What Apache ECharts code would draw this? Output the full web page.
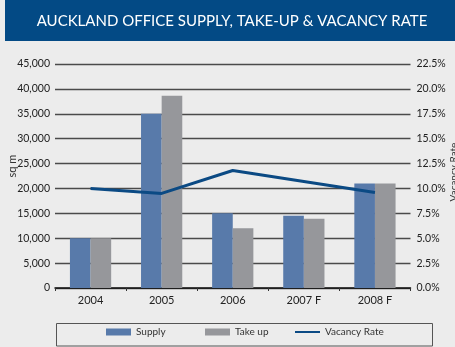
<!DOCTYPE html>
<html>
<head>
<meta charset="utf-8">
<script src="https://cdn.jsdelivr.net/npm/echarts@6/dist/echarts.min.js"></script>
<style>
  html, body { margin: 0; padding: 0; background: #ececec; }
  #chart { width: 455px; height: 347px; }
</style>
</head>
<body>
<div id="chart"></div>
<script>
// Auckland office market: supply, take-up (sq m) and vacancy rate (%)
const years = ['2004', '2005', '2006', '2007 F', '2008 F'];
const supply = [10000, 35000, 15000, 14500, 21000];
const takeUp = [10000, 38600, 12000, 13900, 21000];
const vacancyRate = [10.0, 9.5, 11.8, 10.7, 9.6];

const FONT = 'Lato';
const chart = echarts.init(document.getElementById('chart'));

function legendFor(name, left, opts) {
  return Object.assign({
    data: [name],
    left: left,
    top: 327,
    itemWidth: 25,
    itemHeight: 7,
    icon: 'rect',
    itemGap: 0,
    padding: 0,
    textStyle: { fontFamily: FONT, fontSize: 10, color: '#333' }
  }, opts || {});
}

chart.setOption({
  backgroundColor: '#ececec',
  animation: false,
  textStyle: { fontFamily: FONT },
  grid: { left: 55, right: 44.5, top: 64, bottom: 59, containLabel: false },
  graphic: [
    { type: 'rect', left: 5, top: 0, shape: { width: 450, height: 41 },
      style: { fill: '#034a85' }, z: 0 },
    { type: 'text', x: 232, y: 21,
      style: { text: 'AUCKLAND OFFICE SUPPLY, TAKE-UP & VACANCY RATE',
        fill: '#ffffff', font: '15px Lato', textAlign: 'center', textVerticalAlign: 'middle' } },
    { type: 'text', x: 12, y: 166, rotation: Math.PI / 2,
      style: { text: 'sq m', fill: '#333', font: '11px Lato',
        textAlign: 'center', textVerticalAlign: 'middle' } },
    { type: 'text', x: 454, y: 172, rotation: Math.PI / 2,
      style: { text: 'Vacancy Rate', fill: '#333', font: '10px Lato',
        textAlign: 'center', textVerticalAlign: 'middle' } },
    { type: 'rect', shape: { x: 56.5, y: 323.5, width: 376, height: 22.5 },
      style: { fill: 'none', stroke: '#555', lineWidth: 1 } }
  ],
  legend: [
    legendFor('Supply', 106),
    legendFor('Take up', 205),
    legendFor('Vacancy Rate', 295, { itemHeight: 2 })
  ],
  xAxis: {
    type: 'category',
    data: years,
    axisLine: { show: true, lineStyle: { color: '#111', width: 1.5 } },
    axisTick: { show: true, length: 3, lineStyle: { color: '#333' } },
    axisLabel: { fontFamily: FONT, fontSize: 11, color: '#222', margin: 7 }
  },
  yAxis: [
    {
      type: 'value', min: 0, max: 45000, interval: 5000,
      axisLine: { show: false }, axisTick: { show: false },
      splitLine: { show: true, lineStyle: { color: '#4a4a4a', width: 1.4 } },
      axisLabel: {
        fontFamily: FONT, fontSize: 10.5, color: '#222', margin: 5,
        formatter: v => v.toLocaleString('en-US')
      }
    },
    {
      type: 'value', min: 0, max: 22.5, interval: 2.5, position: 'right',
      axisLine: { show: false }, axisTick: { show: false },
      splitLine: { show: false },
      axisLabel: {
        fontFamily: FONT, fontSize: 10.5, color: '#222', margin: 6,
        formatter: v => v.toFixed(1) + '%'
      }
    }
  ],
  series: [
    { name: 'Supply', type: 'bar', data: supply, barGap: '0%', barCategoryGap: '42%',
      itemStyle: { color: '#587aaa' } },
    { name: 'Take up', type: 'bar', data: takeUp,
      itemStyle: { color: '#96979b' } },
    { name: 'Vacancy Rate', type: 'line', yAxisIndex: 1, data: vacancyRate,
      showSymbol: false, symbol: 'none',
      lineStyle: { color: '#0b4a84', width: 3 }, itemStyle: { color: '#0b4a84' } }
  ]
});
</script>
</body>
</html>
